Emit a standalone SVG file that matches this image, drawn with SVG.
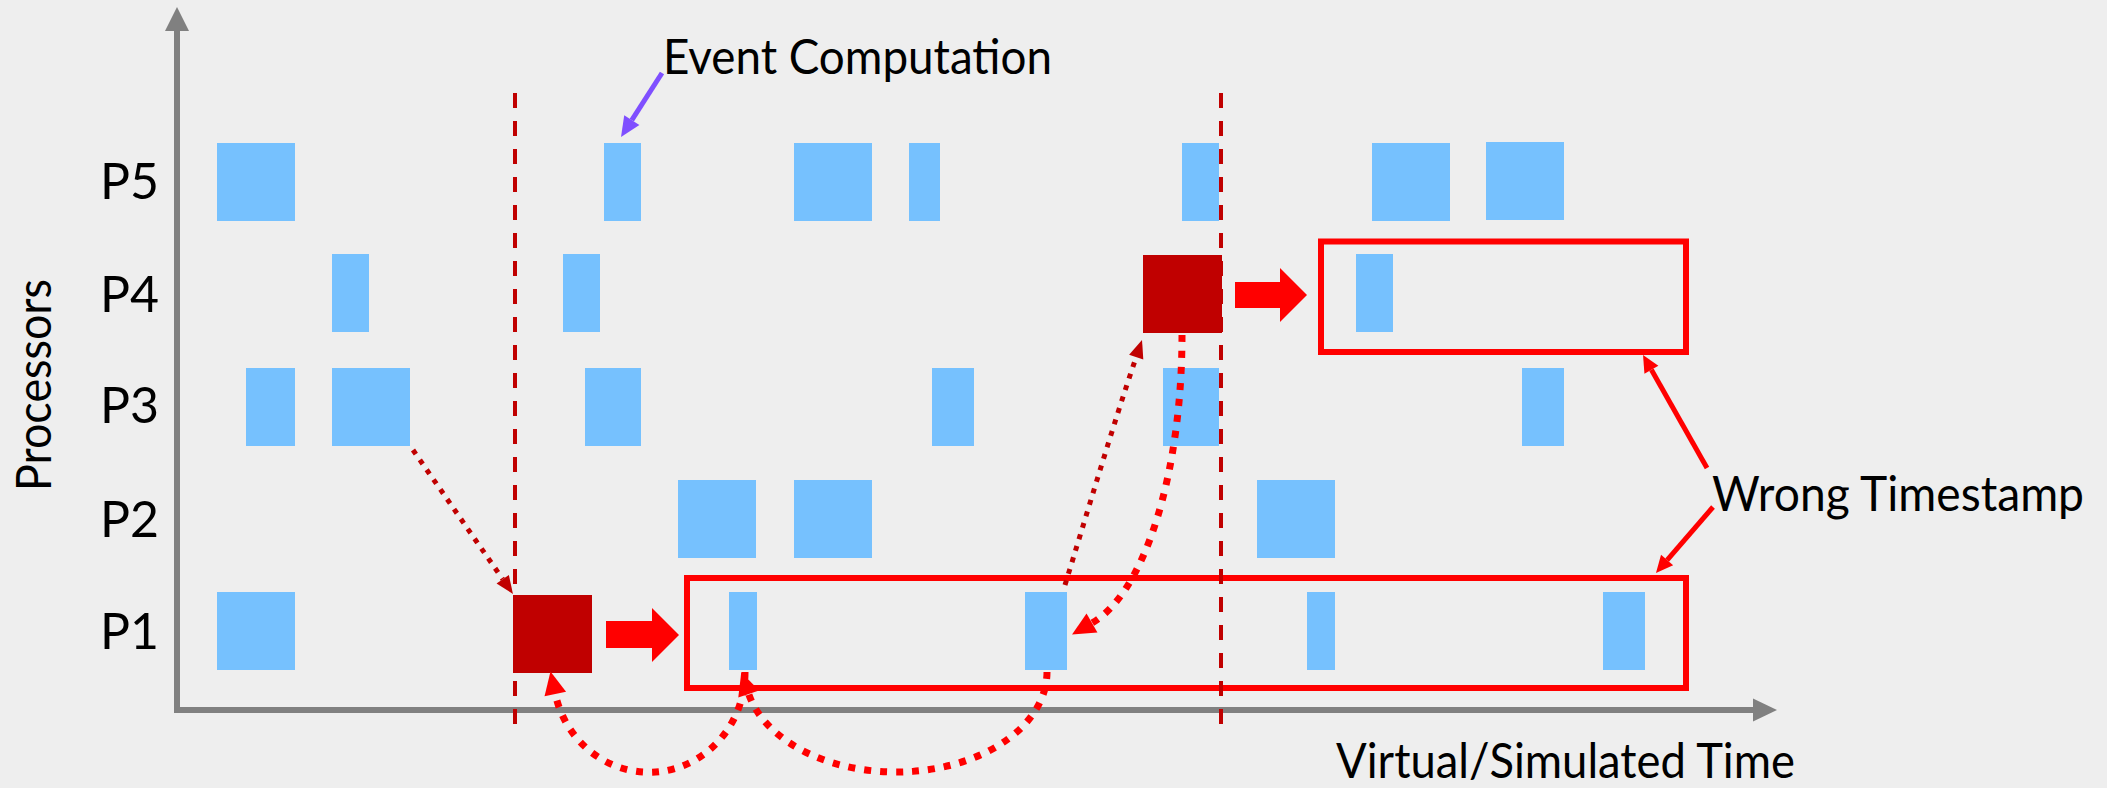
<svg xmlns="http://www.w3.org/2000/svg" width="2107" height="788" viewBox="0 0 2107 788">
  <style>
    .ev { fill: #76C1FE; }
    .bad { fill: #C00000; }
    .lbl { font-family: Lato, "Open Sans", "Liberation Sans", sans-serif; fill: #000000; }
    .row { font-size: 50px; }
    .big { font-size: 48px; }
    .axis { fill: none; stroke: #808080; stroke-width: 6; stroke-linejoin: miter; }
    .gvt { fill: none; stroke: #C00000; stroke-width: 4; stroke-dasharray: 15 13; }
    .win { fill: none; stroke: #FF0000; stroke-width: 6; }
    .msg-thin { fill: none; stroke: #C00000; stroke-width: 5; stroke-dasharray: 5 7; }
    .msg-thick { fill: none; stroke: #FF0000; stroke-width: 7; stroke-dasharray: 7 9; }
    .note { fill: none; stroke: #FF0000; stroke-width: 5; }
    .note-p { fill: none; stroke: #7F4FFF; stroke-width: 5; }
    .block { fill: #FF0000; }
  </style>
  <defs>
    <marker id="hd-dr" markerUnits="userSpaceOnUse" orient="auto" overflow="visible" markerWidth="1" markerHeight="1">
      <path d="M0,-7.5 L18,0 L0,7.5 z" fill="#C00000"/>
    </marker>
    <marker id="hd-r" markerUnits="userSpaceOnUse" orient="auto" overflow="visible" markerWidth="1" markerHeight="1">
      <path d="M0,-11 L23,0 L0,11 z" fill="#FF0000"/>
    </marker>
    <marker id="hd-note" markerUnits="userSpaceOnUse" orient="auto" overflow="visible" markerWidth="1" markerHeight="1">
      <path d="M0,-8 L17,0 L0,8 z" fill="#FF0000"/>
    </marker>
    <marker id="hd-p" markerUnits="userSpaceOnUse" orient="auto" overflow="visible" markerWidth="1" markerHeight="1">
      <path d="M0,-9 L20,0 L0,9 z" fill="#7F4FFF"/>
    </marker>
  </defs>

  <rect x="0" y="0" width="2107" height="788" fill="#EEEEEE"/>

  <!-- axes -->
  <g id="axes">
    <path class="axis" d="M177,30 L177,710 L1754,710"/>
    <path d="M165,31 L177,7 L189,31 z" fill="#808080"/>
    <path d="M1753,698.5 L1777,710 L1753,721.5 z" fill="#808080"/>
    <text class="lbl big" transform="translate(51,491) rotate(-90)" textLength="212" lengthAdjust="spacingAndGlyphs">Processors</text>
    <text class="lbl big" x="1336" y="778" textLength="459" lengthAdjust="spacingAndGlyphs">Virtual/Simulated Time</text>
  </g>

  <!-- processor rows -->
  <g id="P5">
    <text class="lbl row" x="100" y="199">P5</text>
    <rect class="ev" x="217" y="143" width="78" height="78"/>
    <rect class="ev" x="604" y="143" width="37" height="78"/>
    <rect class="ev" x="794" y="143" width="78" height="78"/>
    <rect class="ev" x="909" y="143" width="31" height="78"/>
    <rect class="ev" x="1182" y="143" width="37" height="78"/>
    <rect class="ev" x="1372" y="143" width="78" height="78"/>
    <rect class="ev" x="1486" y="142" width="78" height="78"/>
  </g>
  <g id="P4">
    <text class="lbl row" x="100" y="312">P4</text>
    <rect class="ev" x="332" y="254" width="37" height="78"/>
    <rect class="ev" x="563" y="254" width="37" height="78"/>
    <rect class="bad" x="1143" y="255" width="79" height="78"/>
    <rect class="ev" x="1356" y="254" width="37" height="78"/>
  </g>
  <g id="P3">
    <text class="lbl row" x="100" y="423">P3</text>
    <rect class="ev" x="246" y="368" width="49" height="78"/>
    <rect class="ev" x="332" y="368" width="78" height="78"/>
    <rect class="ev" x="585" y="368" width="56" height="78"/>
    <rect class="ev" x="932" y="368" width="42" height="78"/>
    <rect class="ev" x="1163" y="368" width="56" height="78"/>
    <rect class="ev" x="1522" y="368" width="42" height="78"/>
  </g>
  <g id="P2">
    <text class="lbl row" x="100" y="537">P2</text>
    <rect class="ev" x="678" y="480" width="78" height="78"/>
    <rect class="ev" x="794" y="480" width="78" height="78"/>
    <rect class="ev" x="1257" y="480" width="78" height="78"/>
  </g>
  <g id="P1">
    <text class="lbl row" x="100" y="649">P1</text>
    <rect class="ev" x="217" y="592" width="78" height="78"/>
    <rect class="bad" x="513" y="595" width="79" height="78"/>
    <rect class="ev" x="729" y="592" width="28" height="78"/>
    <rect class="ev" x="1025" y="592" width="42" height="78"/>
    <rect class="ev" x="1307" y="592" width="28" height="78"/>
    <rect class="ev" x="1603" y="592" width="42" height="78"/>
  </g>

  <!-- windows of events computed with a wrong timestamp -->
  <g id="window-P1">
    <rect class="win" x="687" y="578" width="999" height="110"/>
    <polygon class="block" points="606,621 652,621 652,608 679,635 652,662 652,648 606,648"/>
  </g>
  <g id="window-P4">
    <rect class="win" x="1321" y="241.5" width="365" height="110.5"/>
    <polygon class="block" points="1235,282 1280,282 1280,268 1307,295 1280,322 1280,308 1235,308"/>
  </g>

  <!-- global virtual time markers -->
  <g id="gvt-lines">
    <line class="gvt" x1="515" y1="93" x2="515" y2="726"/>
    <line class="gvt" x1="1221" y1="93" x2="1221" y2="726"/>
  </g>

  <!-- messages -->
  <g id="connectors">
    <path class="msg-thin" d="M413,450 L502.7,579.2" marker-end="url(#hd-dr)"/>
    <path class="msg-thin" d="M1065,585 C1085,520 1113,425 1136.2,357.1" marker-end="url(#hd-dr)"/>
    <path class="msg-thick" d="M1182,335 A115,295 0 0 1 1092,623" marker-end="url(#hd-r)"/>
    <path class="msg-thick" d="M1047,672 A151,100 0 0 1 748.7,694" marker-end="url(#hd-r)"/>
    <path class="msg-thick" d="M745,672 A96,100 0 0 1 555.3,694" marker-end="url(#hd-r)"/>
  </g>

  <!-- annotations -->
  <g id="label-event">
    <path class="note-p" d="M662,73 L631.8,120.2" marker-end="url(#hd-p)"/>
    <text class="lbl big" x="663" y="74" textLength="389" lengthAdjust="spacingAndGlyphs">Event Computation</text>
  </g>
  <g id="label-wrong">
    <path class="note" d="M1707,468 L1651.4,369.8" marker-end="url(#hd-note)"/>
    <path class="note" d="M1713,507 L1667.1,560.1" marker-end="url(#hd-note)"/>
    <text class="lbl big" x="1712" y="511" textLength="372" lengthAdjust="spacingAndGlyphs">Wrong Timestamp</text>
  </g>
</svg>
